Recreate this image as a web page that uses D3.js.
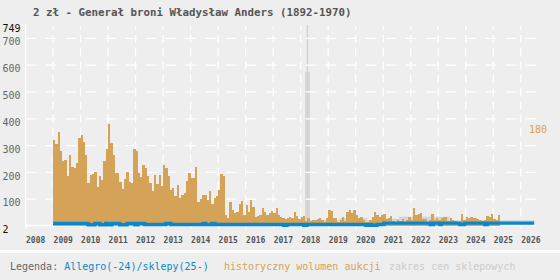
<!DOCTYPE html>
<html>
<head>
<meta charset="utf-8">
<title>2 zł - Generał broni Władysław Anders</title>
<script src="https://cdnjs.cloudflare.com/ajax/libs/d3/7.8.5/d3.min.js"></script>
<style>
  body { margin: 0; background: #eeeeee; }
  svg text { font-family: "DejaVu Sans Mono", monospace; }
</style>
</head>
<body>
<svg id="chart" width="560" height="280"></svg>
<script>

// monthly auction volume, first bar = 2009-01
var volumeStart = "2009-01-01";
var volume = [
  319,305,349,281,244,248,188,266,221,217,236,330,338,315,266,161,191,195,203,146,188,173,244,289,379,308,266,199,199,165,139,176,203,165,161,289,278,199,184,
  229,218,188,161,131,191,158,191,150,229,218,188,135,143,113,154,105,116,124,169,199,180,180,221,90,101,116,116,98,131,83,105,113,135,195,188,42,30,90,
  60,49,53,83,94,41,79,53,98,71,34,38,41,68,53,41,49,56,49,68,41,34,30,26,30,34,30,53,38,26,34,38,19,30,19,22,22,26,
  30,22,15,30,60,56,30,30,15,22,34,19,53,60,49,60,41,30,34,22,15,15,22,34,53,41,34,41,45,26,30,38,19,15,22,19,26,15,
  22,34,22,68,41,45,49,26,26,15,22,45,22,30,22,30,34,34,19,30,22,19,15,15,45,22,34,30,34,30,30,26,22,19,22,38,34,45,26,22,41
];

// price line (Allegro until 2024, shops from 2025), step points
var priceDates = ["2009-01-01","2010-04-10","2010-07-10","2010-09-15","2010-12-01","2011-01-01","2011-02-20",
  "2011-06-05","2011-09-10","2011-12-25","2012-02-01","2012-05-01","2013-02-05","2013-04-15","2014-06-15",
  "2014-07-20","2014-10-10","2014-11-20","2017-05-20","2017-07-01","2018-02-10","2018-03-25","2020-05-15",
  "2020-06-25","2020-08-01","2020-10-10","2021-01-10","2022-09-15","2022-10-28","2023-01-25","2023-02-10",
  "2023-10-15","2023-12-15","2024-09-10","2024-10-12","2026-06-28"];
var priceValues = [10,5,10,5,10,5,10,5,10,5,10,6,10,6,10,6,10,6,3,6,3,6,3,6,3,6,11,6,11,6,11,6,11,6,11,11];

// shop price range (zakres cen sklepowych)
var rangeDates = ["2016-12-01","2018-03-01","2018-05-04","2019-06-01","2020-06-01","2021-01-01","2021-08-01","2023-06-01","2026-06-28"];
var rangeLow   = [10,10,10,10,10,10,10,10,10];
var rangeHigh  = [18,574,22,30,22,27,35,22,22];
var rangeMaxDate = "2018-04-01";
var rangeMax = [574, 749];

var yTicks = [2, 100, 200, 300, 400, 500, 600, 700, 749];
var yGrid = [100, 200, 300, 400, 500, 600, 700];
var yearTicks = ["2008","2009","2010","2011","2012","2013","2014","2015","2016","2017","2018",
  "2019","2020","2021","2022","2023","2024","2025","2026"];
var volumeLabel = "180";

var parseDay = d3.timeParse("%Y-%m-%d");
var parseYear = d3.timeParse("%Y");

var svg = d3.select("#chart");

svg.append("rect").attr("width", 560).attr("height", 280).attr("fill", "#eeeeee");

var x = d3.scaleTime()
  .domain([parseDay("2008-01-01"), parseDay("2026-07-22")])
  .range([25.5, 536]);
var y = d3.scaleLinear()
  .domain([2, 749])
  .range([225.5, 25.2]);

// title
svg.append("text")
  .attr("x", 33).attr("y", 16)
  .attr("fill", "#555").attr("font-size", "10.8px").attr("font-weight", "bold")
  .text("2 zł - Generał broni Władysław Anders (1892-1970)");

// shop range (under the grid)
var rangeData = rangeDates.map(function(d, i) {
  return { date: parseDay(d), low: rangeLow[i], high: rangeHigh[i] };
});
svg.append("path")
  .datum(rangeData)
  .attr("fill", "#d4d4d4")
  .attr("d", d3.area()
    .curve(d3.curveStepAfter)
    .x(function(d) { return x(d.date); })
    .y0(function(d) { return y(d.low); })
    .y1(function(d) { return y(d.high); }));
svg.append("line")
  .attr("x1", x(parseDay(rangeMaxDate))).attr("x2", x(parseDay(rangeMaxDate)))
  .attr("y1", y(rangeMax[0])).attr("y2", y(rangeMax[1]))
  .attr("stroke", "#cfcfcf").attr("stroke-width", 1.3);

// grid
svg.selectAll(".hgrid")
  .data(yGrid)
  .enter().append("line")
  .attr("class", "hgrid")
  .attr("x1", 25.5).attr("x2", 536)
  .attr("y1", function(d) { return y(d); })
  .attr("y2", function(d) { return y(d); })
  .attr("stroke", "#fff").attr("stroke-width", 1.3)
  .attr("stroke-dasharray", "11,9");

svg.selectAll(".vgrid")
  .data(yearTicks.slice(1))
  .enter().append("line")
  .attr("class", "vgrid")
  .attr("x1", function(d) { return x(parseYear(d)); })
  .attr("x2", function(d) { return x(parseYear(d)); })
  .attr("y1", y(2)).attr("y2", 26)
  .attr("stroke", "#fff").attr("stroke-width", 1.3)
  .attr("stroke-dasharray", "8,5.33").attr("stroke-dashoffset", 4);

// axes
var xAxis = svg.append("g")
  .attr("transform", "translate(0," + y(2) + ")")
  .call(d3.axisBottom(x)
    .tickValues(yearTicks.map(function(d) { return parseYear(d); }))
    .tickFormat(d3.timeFormat("%Y"))
    .tickSize(3));
xAxis.select(".domain").attr("stroke", "#fff").attr("stroke-width", 1.5).attr("d", "M25.5,0H536");
xAxis.selectAll(".tick line").attr("stroke", "#fff").attr("stroke-width", 1.3);
xAxis.selectAll(".tick text")
  .attr("y", 17).attr("dy", 0).attr("text-anchor", "start")
  .attr("fill", "#555").attr("font-size", "8px").attr("font-weight", "bold")
  .attr("font-family", "DejaVu Sans Mono, monospace");

svg.append("line")
  .attr("x1", 25.7).attr("x2", 25.7).attr("y1", 24).attr("y2", 226)
  .attr("stroke", "#fff").attr("stroke-width", 1.3);

var yAxis = svg.append("g")
  .call(d3.axisLeft(y).tickValues(yTicks).tickSize(0));
yAxis.select(".domain").remove();
yAxis.selectAll(".tick text")
  .attr("x", 2.5).attr("dy", 6.6).attr("text-anchor", "start")
  .attr("font-family", "Liberation Sans, Arial, sans-serif").attr("font-size", "10px")
  .attr("fill", function(d) { return (d === 2 || d === 749) ? "#111" : "#666"; });

// volume bars
var start = parseDay(volumeStart);
svg.selectAll(".bar")
  .data(volume)
  .enter().append("rect")
  .attr("class", "bar")
  .attr("x", function(d, i) { return x(d3.timeMonth.offset(start, i)); })
  .attr("width", function(d, i) {
    return x(d3.timeMonth.offset(start, i + 1)) - x(d3.timeMonth.offset(start, i));
  })
  .attr("y", function(d) { return y(d); })
  .attr("height", function(d) { return y(2) - y(d); })
  .attr("fill", "#d5a357")
  .attr("shape-rendering", "crispEdges");

// price line
var priceData = priceDates.map(function(d, i) { return { date: parseDay(d), value: priceValues[i] }; });
svg.append("path")
  .datum(priceData)
  .attr("fill", "none")
  .attr("stroke", "#0a87cb")
  .attr("stroke-width", 3.4)
  .attr("d", d3.line()
    .curve(d3.curveStepAfter)
    .x(function(d) { return x(d.date); })
    .y(function(d) { return y(d.value); }));

// volume label on the right
svg.append("text")
  .attr("x", 529).attr("y", 132.7)
  .attr("fill", "#d9a24e").attr("font-size", "10px")
  .text(volumeLabel);

// legend
svg.append("rect").attr("x", 0).attr("y", 250).attr("width", 560).attr("height", 3).attr("fill", "#fff");
var legend = svg.append("text")
  .attr("x", 10).attr("y", 270)
  .attr("font-size", "10px")
  .attr("xml:space", "preserve");
legend.append("tspan").attr("fill", "#666").text("Legenda: ");
legend.append("tspan").attr("fill", "#0a87cb").text("Allegro(-24)/sklepy(25-)");
legend.append("tspan").attr("x", 224).attr("fill", "#d5a357").text("historyczny wolumen aukcji");
legend.append("tspan").attr("x", 389).attr("fill", "#cccccc").text("zakres cen sklepowych");

</script>
</body>
</html>
